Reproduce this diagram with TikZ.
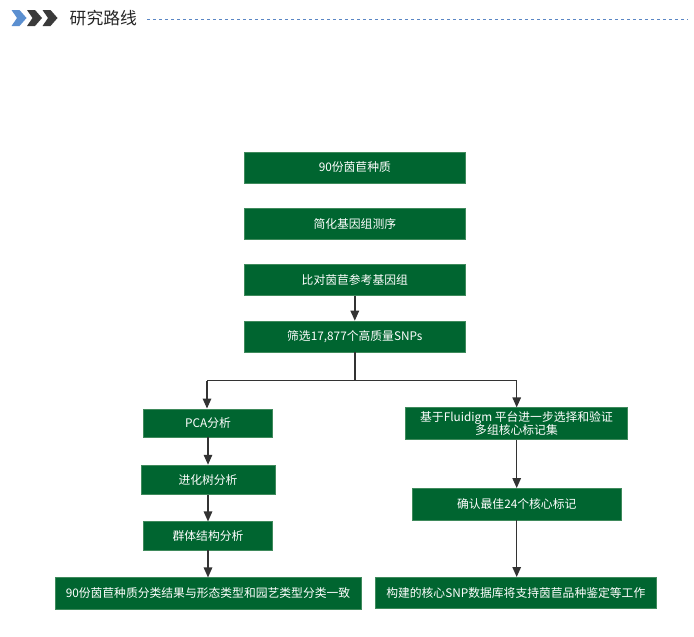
\documentclass[tikz,border=0pt]{standalone}
\usepackage{fontspec}
\setmainfont{Noto Sans CJK SC}
\setsansfont{Noto Sans CJK SC}
\usetikzlibrary{arrows.meta}
\definecolor{boxgreen}{HTML}{006530}
\definecolor{boxedge}{HTML}{3F8A5C}
\definecolor{linegray}{HTML}{333333}
\definecolor{titlegray}{HTML}{262626}
\definecolor{chevblue}{HTML}{5B8FD0}
\definecolor{chevdark}{HTML}{3A3A3A}
\definecolor{dashblue}{HTML}{5A86C4}
\tikzset{
  gbox/.style={fill=boxgreen, draw=boxedge, line width=0.6pt, text=white,
    font=\fontsize{11.8}{15}\selectfont, inner sep=0pt, align=center},
  conn/.style={draw=linegray, line width=1.4pt},
  arr/.style={conn, -{Triangle[width=8.5pt,length=10pt]}},
}
\begin{document}
\begin{tikzpicture}[x=1pt,y=-1pt]
\useasboundingbox (0,0) rectangle (694,637);
\fill[white] (0,0) rectangle (694,637);
% header
\fill[chevblue] (11.5,10) -- (19.5,10) -- (26.5,18) -- (19.5,26) -- (11.5,26) -- (17,18) -- cycle;
\fill[chevdark] (27,10) -- (35,10) -- (42,18) -- (35,26) -- (27,26) -- (32.5,18) -- cycle;
\fill[chevdark] (42.5,10) -- (50.5,10) -- (57.5,18) -- (50.5,26) -- (42.5,26) -- (48,18) -- cycle;
\node[text=titlegray, font=\fontsize{16.8}{16.8}\selectfont, inner sep=0pt, anchor=west] (title) at (69.5,18.5) {研究路线};
\coordinate (dl) at (147,19);
\coordinate (dr) at (688,19);
\draw[dashblue, line width=0.9pt, dash pattern=on 3pt off 3pt] (dl) -- (dr);
% main column
\node[gbox, minimum width=221.5, minimum height=31] (b1) at (354.8,167.5) {90份茵苣种质};
\node[gbox, minimum width=221.5, minimum height=31] (b2) at (354.8,223.8) {简化基因组测序};
\node[gbox, minimum width=221.5, minimum height=31] (b3) at (354.8,279.8) {比对茵苣参考基因组};
\node[gbox, minimum width=221.5, minimum height=31] (b4) at (354.8,336.5) {筛选17,877个高质量SNPs};
% left column
\node[gbox, minimum width=129.4, minimum height=28.3] (pca) at (208,423) {PCA分析};
\node[gbox, minimum width=134, minimum height=29.3] (tree) at (208,479.7) {进化树分析};
\node[gbox, minimum width=129.4, minimum height=28.3] (pop) at (208,535.9) {群体结构分析};
\node[gbox, minimum width=306, minimum height=31.5] (res1) at (208,593.5) {90份茵苣种质分类结果与形态类型和园艺类型分类一致};
% right column
\node[gbox, minimum width=221.6, minimum height=31.6, font=\fontsize{11.8}{13.5}\selectfont] (flu) at (516.5,423.5) {基于Fluidigm 平台进一步选择和验证\\多组核心标记集};
\node[gbox, minimum width=208.7, minimum height=31.7] (conf) at (516.7,504.2) {确认最佳24个核心标记};
\node[gbox, minimum width=281.7, minimum height=31] (res2) at (515.8,592.8) {构建的核心SNP数据库将支持茵苣品种鉴定等工作};
% connectors
\coordinate (split) at (354.8,380.7);
\coordinate (lsplit) at (207,380.7);
\coordinate (rsplit) at (516.7,380.7);
\draw[arr] (b3) -- (b4);
\draw[conn] (b4.south) -- (split);
\draw[conn] (lsplit) -- (rsplit);
\draw[arr] (lsplit) -- (lsplit |- pca.north);
\draw[arr] (rsplit) -- (rsplit |- flu.north);
\draw[arr] (pca) -- (tree);
\draw[arr] (tree) -- (pop);
\draw[arr] (pop) -- (res1);
\draw[arr] (flu.south -| rsplit) -- (rsplit |- conf.north);
\draw[arr] (conf.south -| rsplit) -- (rsplit |- res2.north);
\end{tikzpicture}
\end{document}
